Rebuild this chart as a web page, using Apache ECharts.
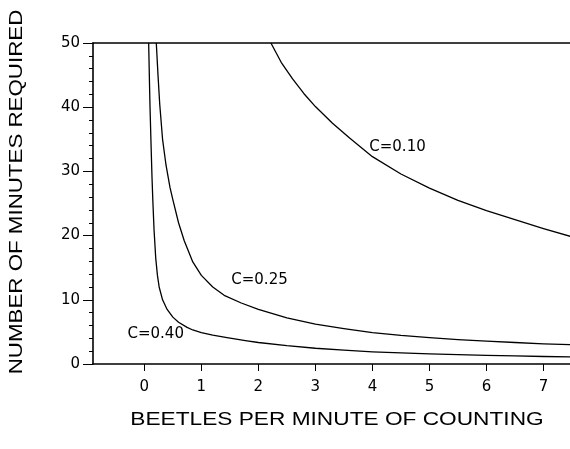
<!DOCTYPE html>
<html>
<head>
<meta charset="utf-8">
<script src="https://cdn.jsdelivr.net/npm/echarts@6/dist/echarts.min.js"></script>
<style>
  html, body { margin: 0; padding: 0; background: #fff; }
  #chart { width: 570px; height: 449px; }
</style>
</head>
<body>
<div id="chart"></div>
<script>
// values: [beetles per minute, minutes required]
const c010 = [
  [2.22, 50], [2.4, 47], [2.6, 44.4], [2.8, 42.1], [3.0, 40.1], [3.3, 37.5],
  [3.6, 35.2], [4.0, 32.3], [4.5, 29.6], [5.0, 27.4], [5.5, 25.5], [6.0, 23.9],
  [6.5, 22.5], [7.0, 21.1], [7.5, 19.8],
]
const c025 = [
  [0.21, 50], [0.24, 45], [0.27, 40.5], [0.32, 35], [0.38, 31], [0.45, 27.5],
  [0.5, 25.6], [0.6, 22], [0.7, 19.2], [0.85, 15.9], [1.0, 13.8], [1.2, 12],
  [1.4, 10.7], [1.7, 9.5], [2.0, 8.5], [2.5, 7.2], [3.0, 6.2], [3.5, 5.5],
  [4.0, 4.9], [4.5, 4.45], [5.0, 4.1], [5.5, 3.8], [6.0, 3.55], [6.5, 3.35],
  [7.0, 3.15], [7.5, 3.0],
]
const c040 = [
  [0.076, 50], [0.09, 44], [0.1, 40], [0.117, 34.5], [0.135, 29], [0.15, 25.3],
  [0.17, 21], [0.2, 16.5], [0.23, 13.8], [0.26, 12], [0.32, 10], [0.4, 8.5],
  [0.5, 7.3], [0.6, 6.5], [0.75, 5.7], [0.85, 5.3], [1.0, 4.9], [1.2, 4.5],
  [1.45, 4.1], [1.8, 3.6], [2.0, 3.35], [2.5, 2.85], [3.0, 2.45], [3.5, 2.15],
  [4.0, 1.9], [4.5, 1.72], [5.0, 1.57], [5.5, 1.45], [6.0, 1.35], [6.5, 1.25],
  [7.0, 1.17], [7.5, 1.1],
]
const curveNames = ['C=0.10', 'C=0.25', 'C=0.40']
const xTicks = [0, 1, 2, 3, 4, 5, 6, 7]
const xTitle = 'BEETLES PER MINUTE OF COUNTING'
const yTitle = 'NUMBER OF MINUTES REQUIRED'

const chart = echarts.init(document.getElementById('chart'))
const font = 'DejaVu Sans, Arial, sans-serif'
const titleFont = '18px Liberation Sans, Arial, sans-serif'

function curve(name, data, labelAt) {
  return {
    name,
    type: 'line',
    data,
    smooth: false,
    symbol: 'none',
    clip: true,
    lineStyle: { color: '#000', width: 1.3, join: 'round' },
    markPoint: {
      symbol: 'circle',
      symbolSize: 0,
      label: {
        show: true,
        formatter: name,
        color: '#000',
        fontFamily: font,
        fontSize: 15,
      },
      data: [{ coord: labelAt }],
    },
  }
}

const option = {
  backgroundColor: '#fff',
  animation: false,
  grid: { left: 93, top: 43, width: 479, height: 321, outerBoundsMode: 'none' },
  xAxis: [
    {
      type: 'value',
      min: -0.9,
      max: 7.5,
      axisLine: { onZero: false, lineStyle: { color: '#000', width: 1.6 } },
      axisTick: { customValues: xTicks, length: 7, lineStyle: { color: '#000' } },
      axisLabel: {
        customValues: xTicks,
        margin: 16,
        color: '#000',
        fontFamily: font,
        fontSize: 15,
      },
      splitLine: { show: false },
    },
    {
      type: 'value',
      position: 'top',
      min: -0.9,
      max: 7.5,
      axisLine: { show: true, onZero: false, lineStyle: { color: '#000', width: 1.6 } },
      axisTick: { show: false },
      axisLabel: { show: false },
      splitLine: { show: false },
    },
  ],
  yAxis: {
    type: 'value',
    min: 0,
    max: 50,
    interval: 10,
    axisLine: { show: true, onZero: false, lineStyle: { color: '#000', width: 1.6 } },
    axisTick: { show: true, length: 10, lineStyle: { color: '#000' } },
    minorTick: { show: true, splitNumber: 5, length: 4, lineStyle: { color: '#000' } },
    axisLabel: { margin: 13, color: '#000', fontFamily: font, fontSize: 15 },
    splitLine: { show: false },
  },
  // the original lettering is wider than any installed face, so it is stretched
  graphic: [
    {
      type: 'text',
      x: 337,
      y: 420,
      scaleX: 1.26,
      style: {
        text: xTitle,
        font: titleFont,
        fill: '#000',
        textAlign: 'center',
        textVerticalAlign: 'middle',
      },
    },
    {
      type: 'text',
      x: 17,
      y: 192,
      rotation: Math.PI / 2,
      scaleX: 1.24,
      style: {
        text: yTitle,
        font: titleFont,
        fill: '#000',
        textAlign: 'center',
        textVerticalAlign: 'middle',
      },
    },
  ],
  series: [
    curve(curveNames[0], c010, [4.44, 33.8]),
    curve(curveNames[1], c025, [2.02, 13.1]),
    curve(curveNames[2], c040, [0.2, 4.7]),
  ],
}

chart.setOption(option)
</script>
</body>
</html>
